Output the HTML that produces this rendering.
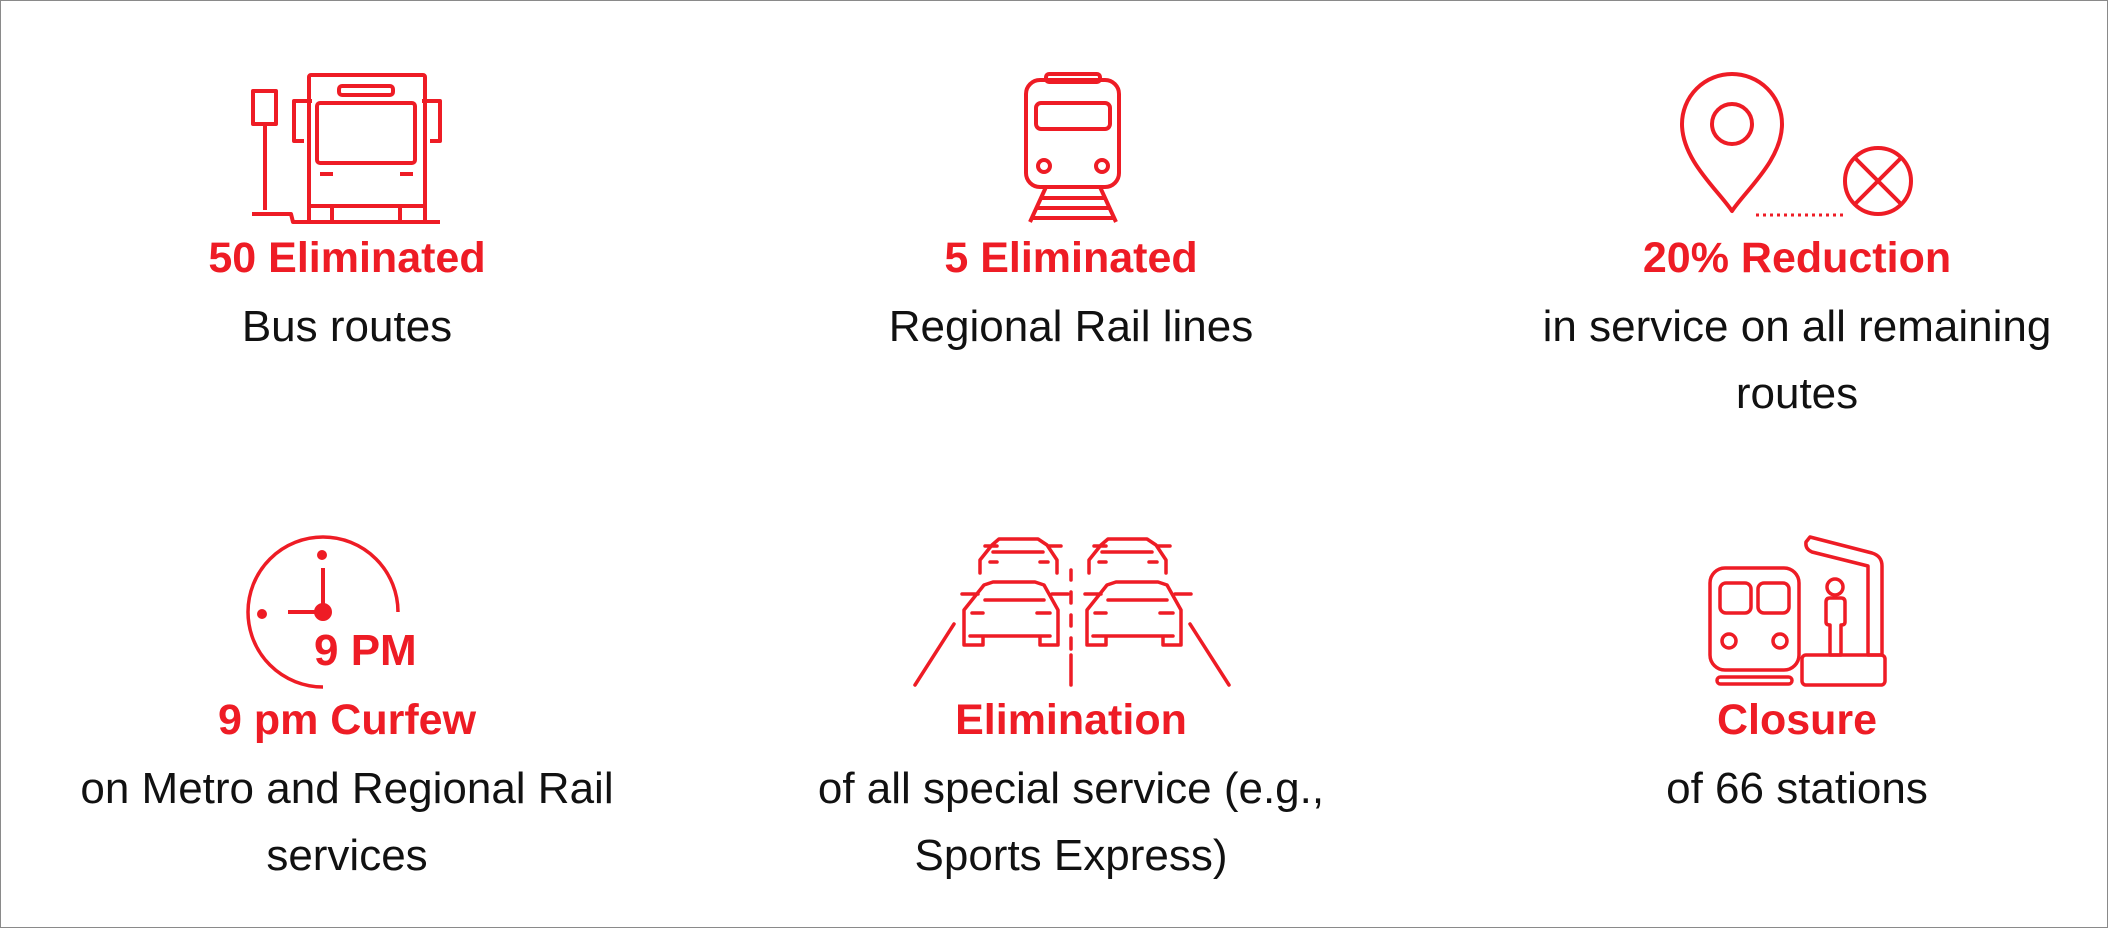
<!DOCTYPE html>
<html><head><style>
html,body{margin:0;padding:0;background:#fff;}
body{width:2108px;height:928px;position:relative;overflow:hidden;font-family:"Liberation Sans",sans-serif;}
.frame{position:absolute;left:0;top:0;width:2106px;height:926px;border:1px solid #8a8a8a;}
.c{position:absolute;width:700px;text-align:center;}
.h{color:#ee1c25;font-weight:bold;font-size:43px;line-height:48px;}
.t{color:#111;font-size:44px;line-height:67px;margin-top:11px;}
svg{position:absolute;left:0;top:0;}
</style></head><body>
<div class="frame"></div>
<svg width="2108" height="928" fill="none" stroke="#ee1c25" stroke-width="4" stroke-linejoin="round">
<!-- bus -->
<rect x="253" y="91" width="23" height="33"/>
<line x1="265" y1="124" x2="265" y2="210"/>
<path d="M252 214 H291 L293 222 H440"/>
<rect x="309" y="75" width="116" height="147" rx="2"/>
<rect x="339" y="86" width="54" height="9" rx="3"/>
<rect x="317" y="103" width="98" height="60" rx="3"/>
<path d="M312 101 H294 V141 H304 M422 101 H440 V141 H430"/>
<line x1="320" y1="174" x2="333" y2="174"/><line x1="400" y1="174" x2="413" y2="174"/>
<line x1="309" y1="206" x2="425" y2="206"/>
<line x1="332" y1="206" x2="332" y2="222"/><line x1="400" y1="206" x2="400" y2="222"/>
<!-- train -->
<rect x="1026" y="80" width="93" height="107" rx="14"/>
<rect x="1046" y="74" width="54" height="8" rx="3"/>
<rect x="1036" y="103" width="74" height="26" rx="5"/>
<circle cx="1044" cy="166" r="6"/><circle cx="1102" cy="166" r="6"/>
<path d="M1046 187 L1030 222 M1100 187 L1116 222 M1040 198 H1106 M1036 208 H1110 M1032 218 H1114"/>
<!-- pin -->
<path d="M1732 211 C1718 190 1682 160 1682 124 A50 50 0 0 1 1782 124 C1782 160 1746 190 1732 211 Z"/>
<circle cx="1732" cy="124" r="20"/>
<line x1="1756" y1="215" x2="1846" y2="215" stroke-dasharray="3 4" stroke-width="3"/>
<circle cx="1878" cy="181" r="33"/>
<path d="M1855 158 L1901 204 M1901 158 L1855 204"/>
<!-- clock -->
<path d="M323 687 A75 75 0 1 1 398 612" stroke-width="3.5"/>
<line x1="323" y1="568" x2="323" y2="610"/>
<line x1="288" y1="612" x2="323" y2="612"/>
<circle cx="323" cy="612" r="7" fill="#ee1c25"/>
<circle cx="322" cy="555" r="3" fill="#ee1c25"/>
<circle cx="262" cy="614" r="3" fill="#ee1c25"/>
<text x="314" y="665" fill="#ee1c25" stroke="none" font-family="Liberation Sans" font-weight="bold" font-size="44">9 PM</text>
<!-- cars -->
<g stroke-width="3.5" stroke-linecap="round">
<path d="M980 573 V560 L992 545 L999 539 H1038 L1047 545 L1057 560 V573 M985 546 H997 M1049 546 H1061 M993 552 H1043 M990 562 H997 M1040 562 H1048"/>
<path d="M1089 573 V560 L1101 545 L1108 539 H1147 L1156 545 L1166 560 V573 M1094 546 H1106 M1158 546 H1170 M1102 552 H1152 M1099 562 H1106 M1149 562 H1157"/>
<path d="M964 645 V610 L984 585 L993 582 H1035 L1044 585 L1058 610 V645 H1040 V636 M964 645 H983 V636 M970 636 H1050 M962 594 H978 M1052 594 H1068 M972 613 H983 M1037 613 H1050 M985 600 H1044"/>
<path d="M1087 645 V610 L1107 585 L1116 582 H1158 L1167 585 L1181 610 V645 H1163 V636 M1087 645 H1106 V636 M1093 636 H1173 M1085 594 H1101 M1175 594 H1191 M1095 613 H1106 M1160 613 H1173 M1108 600 H1167"/>
<path d="M1071 570 V580 M1071 592 V603 M1071 615 V626 M1071 638 V649 M1071 655 V685" />
<path d="M954 624 L915 685 M1190 624 L1229 685"/>
</g>
<!-- station -->
<g stroke-width="3.5">
<rect x="1710" y="568" width="89" height="102" rx="15"/>
<rect x="1720" y="583" width="31" height="30" rx="6"/><rect x="1758" y="583" width="31" height="30" rx="6"/>
<circle cx="1729" cy="641" r="7"/><circle cx="1780" cy="641" r="7"/>
<rect x="1717" y="677" width="75" height="7" rx="3.5"/>
<path d="M1810 537 L1872 553 Q1882 556 1882 566 V655 H1868 V566 L1812 552 Q1805 549 1806 542 Z"/>
<circle cx="1835" cy="587" r="8"/>
<path d="M1830 598 H1841 Q1845 598 1845 602 V622 Q1845 625 1841 625 V655 H1830 V625 Q1826 625 1826 622 V602 Q1826 598 1830 598 Z"/>
<rect x="1802" y="655" width="83" height="30" rx="4"/>
</g>
</svg>
<div class="c" style="left:-3px;top:234px"><div class="h">50 Eliminated</div><div class="t">Bus routes</div></div>
<div class="c" style="left:721px;top:234px"><div class="h">5 Eliminated</div><div class="t">Regional Rail lines</div></div>
<div class="c" style="left:1447px;top:234px"><div class="h">20% Reduction</div><div class="t">in service on all remaining<br>routes</div></div>
<div class="c" style="left:-3px;top:696px"><div class="h">9 pm Curfew</div><div class="t">on Metro and Regional Rail<br>services</div></div>
<div class="c" style="left:721px;top:696px"><div class="h">Elimination</div><div class="t">of all special service (e.g.,<br>Sports Express)</div></div>
<div class="c" style="left:1447px;top:696px"><div class="h">Closure</div><div class="t">of 66 stations</div></div>
</body></html>
